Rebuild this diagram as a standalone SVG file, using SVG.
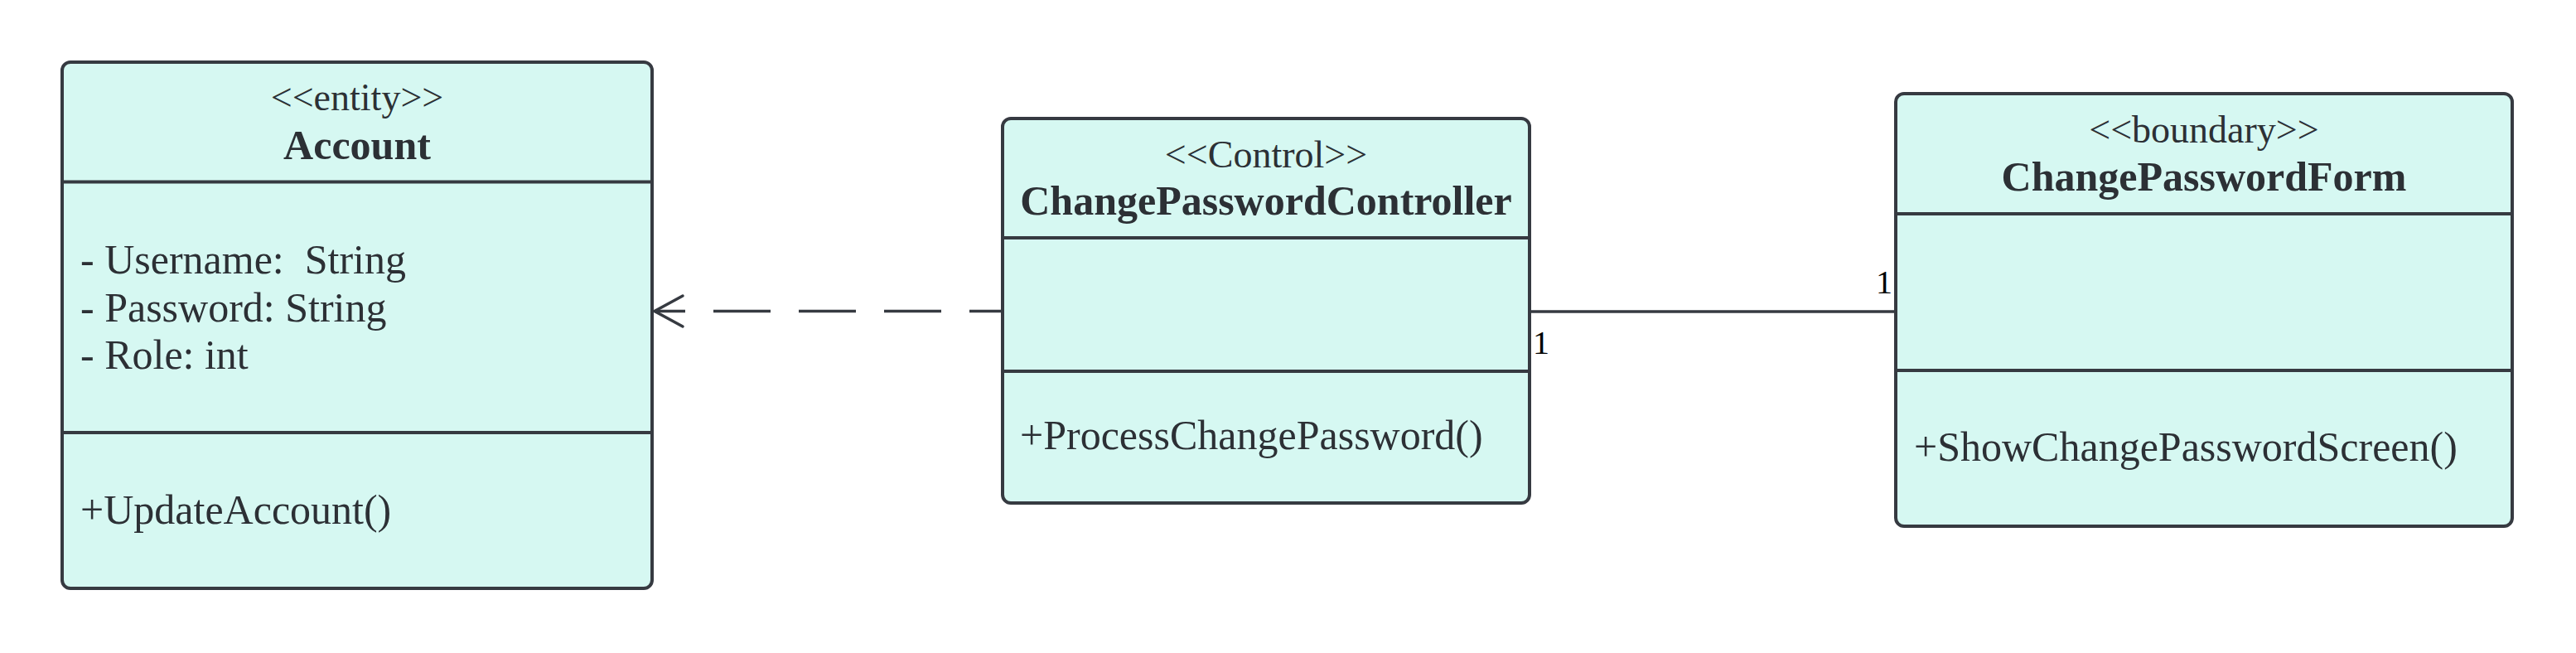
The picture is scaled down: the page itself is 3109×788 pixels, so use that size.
<svg xmlns="http://www.w3.org/2000/svg" width="3109" height="788" viewBox="0 0 3109 788">
<style>
.box{fill:#d6f8f2;stroke:#363a41;stroke-width:4}
.div{stroke:#363a41;stroke-width:4}
.t{font-family:"Liberation Serif","Times New Roman",serif;font-size:50px;fill:#2c3035}
.s{font-size:46px}
.c{text-anchor:middle}
.b{font-weight:bold}
.edge{fill:none;stroke:#363a41;stroke-width:3.5}
.m{font-family:"Liberation Serif","Times New Roman",serif;font-size:40px;fill:#000}
</style>
<rect width="3109" height="788" fill="#ffffff"/>
<g id="connectors">
<path class="edge" d="M790,375.5 L1210,375.5" stroke-dasharray="69 34" stroke-dashoffset="32"/>
<path class="edge" d="M824,357 L790,375.5 L824,394" stroke-linecap="round"/>
<path class="edge" d="M1846,376 L2288,376"/>
<text class="m" x="1850" y="427">1</text>
<text class="m" x="2284" y="354" text-anchor="end">1</text>
</g>
<g id="Account">
<rect class="box" x="75" y="75" width="712" height="635" rx="10"/>
<line class="div" x1="75" y1="219.5" x2="787" y2="219.5"/>
<line class="div" x1="75" y1="522" x2="787" y2="522"/>
<text class="t s c" x="431" y="133">&lt;&lt;entity&gt;&gt;</text>
<text class="t c b" x="431" y="192">Account</text>
<text class="t" x="97" y="330" xml:space="preserve">- Username:  String</text>
<text class="t" x="97" y="388">- Password: String</text>
<text class="t" x="97" y="445">- Role: int</text>
<text class="t" x="97" y="632">+UpdateAccount()</text>
</g>
<g id="ChangePasswordController">
<rect class="box" x="1210" y="143" width="636" height="464" rx="10"/>
<line class="div" x1="1210" y1="287" x2="1846" y2="287"/>
<line class="div" x1="1210" y1="448" x2="1846" y2="448"/>
<text class="t s c" x="1528" y="202">&lt;&lt;Control&gt;&gt;</text>
<text class="t c b" x="1528" y="259">ChangePasswordController</text>
<text class="t" x="1231" y="542">+ProcessChangePassword()</text>
</g>
<g id="ChangePasswordForm">
<rect class="box" x="2288" y="113" width="744" height="522" rx="10"/>
<line class="div" x1="2288" y1="258" x2="3032" y2="258"/>
<line class="div" x1="2288" y1="447" x2="3032" y2="447"/>
<text class="t s c" x="2660" y="172">&lt;&lt;boundary&gt;&gt;</text>
<text class="t c b" x="2660" y="230">ChangePasswordForm</text>
<text class="t" x="2310" y="556">+ShowChangePasswordScreen()</text>
</g>
</svg>
